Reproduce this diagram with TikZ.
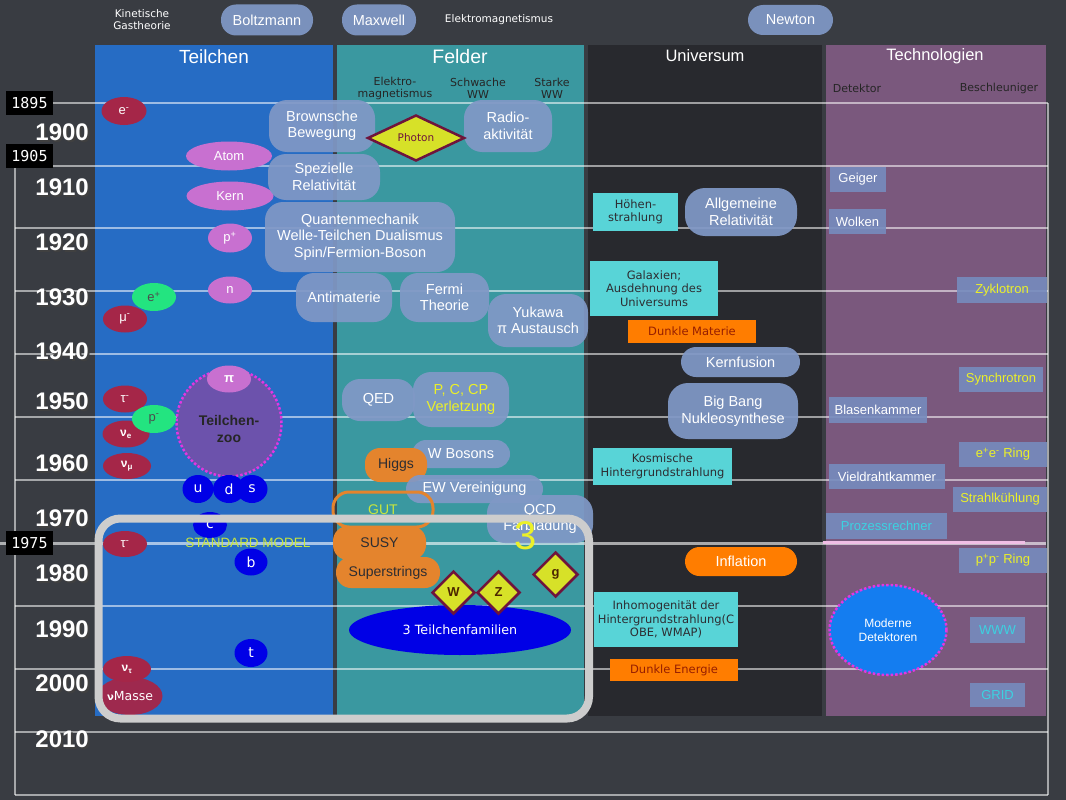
\documentclass[tikz,border=0pt]{standalone}
\usepackage{fontspec}
\setmainfont{Liberation Sans}
\newfontfamily\vd{DejaVu Sans}
\newfontfamily\mn{DejaVu Sans Mono}
\usetikzlibrary{shapes.geometric}
\newcommand\fsz[2]{\fontsize{#1}{#2}\selectfont}
\definecolor{bg}{RGB}{57,60,66}
\definecolor{colT}{RGB}{38,108,196}
\definecolor{colF}{RGB}{58,152,160}
\definecolor{colU}{RGB}{40,41,46}
\definecolor{colX}{RGB}{122,88,125}
\definecolor{pillc}{RGB}{128,152,198}
\definecolor{redp}{RGB}{165,38,72}
\definecolor{orch}{RGB}{200,112,208}
\definecolor{grn}{RGB}{35,228,128}
\definecolor{qblue}{RGB}{0,0,230}
\definecolor{cyanb}{RGB}{88,212,215}
\definecolor{orng}{RGB}{255,125,0}
\definecolor{orng2}{RGB}{228,132,45}
\definecolor{techb}{RGB}{118,140,190}
\definecolor{yel}{RGB}{235,240,40}
\definecolor{dia}{RGB}{215,225,40}
\definecolor{diab}{RGB}{110,20,60}
\definecolor{zoo}{RGB}{108,82,172}
\definecolor{mag}{RGB}{225,55,225}
\definecolor{modb}{RGB}{20,125,240}
\definecolor{framec}{RGB}{205,205,205}
\definecolor{stdm}{RGB}{200,230,60}
\definecolor{pinkl}{RGB}{240,190,230}
\definecolor{darkt}{RGB}{45,45,50}
\definecolor{dmred}{RGB}{150,30,0}
\definecolor{cyt}{RGB}{60,210,225}
\tikzset{
  gridl/.style={draw=white, opacity=0.55, line width=1.5},
  pill/.style={fill=pillc, fill opacity=0.93, text opacity=1, rounded corners=14, text=white,
    font=\fsz{14.5}{16.5}, align=center, inner sep=0pt},
  opill/.style={fill=orng2, rounded corners=15, text=darkt, font=\fsz{14}{16}, align=center, inner sep=0pt},
  pe/.style={ellipse, inner sep=0pt, text=white, font=\fsz{13}{13}},
  qk/.style={ellipse, fill=qblue, inner sep=0pt, text=white, font=\vd\fsz{14}{14}},
  cbox/.style={fill=cyanb, inner sep=0pt, text=darkt, font=\vd\fsz{11.5}{13.5}, align=center},
  obox/.style={fill=orng, inner sep=0pt, text=dmred, font=\vd\fsz{11.5}{13.5}},
  tbox/.style={fill=techb, fill opacity=0.9, text opacity=1, inner sep=0pt, text=white, font=\fsz{13}{13}},
  ytbox/.style={tbox, text=yel},
  ctbox/.style={tbox, text=cyt},
  yrl/.style={anchor=east, text=white, font=\bfseries\fsz{24}{24}, inner sep=0pt},
  yrs/.style={anchor=east, text=black!75, font=\bfseries\fsz{24}{24}, inner sep=0pt},
  yrbox/.style={fill=black, text=white, font=\mn\fsz{15}{15}, minimum width=47, minimum height=24, inner sep=0pt},
  ttl/.style={text=white, inner sep=0pt},
  sub/.style={text=black!85, font=\vd\fsz{11}{12}, align=center, inner sep=0pt},
  toptxt/.style={text=white, font=\vd\fsz{10.5}{12}, align=center, inner sep=0pt},
  dmd/.style={diamond, fill=dia, draw=diab, line width=2.5, inner sep=0pt},
}
\begin{document}
\begin{tikzpicture}[x=1pt,y=-1pt]
\useasboundingbox (0,0) rectangle (1066,800);
\fill[bg] (0,0) rectangle (1066,800);
% columns
\fill[colT] (95,45) rectangle (333,716);
\fill[colF] (337,45) rectangle (584,716);
\fill[colU] (588,45) rectangle (822,716);
\fill[colX] (826,45) rectangle (1046,716);
% grid
\foreach \yy in {166,228,291,354,417,480,606,669,732,795} \draw[gridl] (15,\yy) -- (1048,\yy);
\draw[gridl] (53,103) -- (1048,103);
\draw[gridl] (15,166) -- (15,795);
\draw[gridl] (1048,103) -- (1048,795);
\draw[white, opacity=0.6, line width=3] (0,543) -- (1046,543);
\draw[pinkl, line width=3] (823,542) -- (1025,542);
% year boxes
\node[yrbox] (b1895) at (29.5,103) {1895};
\node[yrbox] (b1905) at (29.5,156) {1905};
\node[yrbox] (b1975) at (29.5,543) {1975};
% year labels
\foreach \yr/\yy in {1900/132,1910/187,1920/242,1930/297,1940/351,1950/401,1960/463,1970/518,1980/573,1990/629,2000/683,2010/739}{
  \node[yrs] (s\yr) at (91,\yy+2) {\yr};
  \node[yrl] (y\yr) at (89,\yy) {\yr};
}
% top row
\node[toptxt] (kin) at (142,20) {Kinetische\\Gastheorie};
\node[pill, minimum width=92, minimum height=31, rounded corners=15] (boltz) at (267,20) {Boltzmann};
\node[pill, minimum width=74, minimum height=31, rounded corners=15] (maxw) at (379,20) {Maxwell};
\node[toptxt] (elm) at (499,20) {Elektromagnetismus};
\node[pill, minimum width=85, minimum height=30, rounded corners=15] (newt) at (790.5,20) {Newton};
% titles
\node[ttl, font=\fsz{19}{19}] (tT) at (214,57) {Teilchen};
\node[ttl, font=\fsz{19.5}{19.5}] (tF) at (460,57) {Felder};
\node[ttl, font=\fsz{16.5}{16.5}] (tU) at (705,56) {Universum};
\node[ttl, font=\fsz{16.5}{16.5}] (tX) at (935,56) {Technologien};
\node[sub] (sEM) at (395,88) {Elektro-\\magnetismus};
\node[sub] (sSW) at (478,88) {Schwache\\WW};
\node[sub] (sST) at (552,88) {Starke\\WW};
\node[sub] (sDet) at (857,88) {Detektor};
\node[sub] (sBes) at (999,88) {Beschleuniger};
% Teilchen
\node[pe, fill=redp, minimum width=45, minimum height=28] (em) at (124,111) {e\textsuperscript{-}};
\node[pe, fill=orch, minimum width=86, minimum height=29] (atom) at (229,156) {Atom};
\node[pe, fill=orch, minimum width=87, minimum height=29] (kern) at (230,196) {Kern};
\node[pe, fill=orch, minimum width=44, minimum height=29] (pplus) at (230,238) {p\textsuperscript{+}};
\node[pe, fill=orch, minimum width=44, minimum height=27] (neut) at (230,290) {n};
\node[pe, fill=grn, text=black!70, minimum width=44, minimum height=28] (epos) at (154,297) {e\textsuperscript{+}};
\node[pe, fill=redp, minimum width=44, minimum height=27] (muon) at (125,319) {μ\textsuperscript{-}};
\node[ellipse, fill=zoo, draw=mag, dotted, line width=2.5, minimum width=105, minimum height=107, inner sep=0pt] (zoo) at (229,423) {};
\node[font=\bfseries\fsz{14}{17}, text=black!85, align=center, inner sep=0pt] (zootxt) at (229,429) {Teilchen-\\zoo};
\node[pe, fill=orch, minimum width=44, minimum height=27, font=\bfseries\fsz{13}{13}] (pion) at (229,379) {π};
\node[pe, fill=redp, minimum width=44, minimum height=27] (tau1) at (125,399) {τ\textsuperscript{-}};
\node[pe, fill=redp, minimum width=47, minimum height=27, font=\bfseries\fsz{12}{12}] (nue) at (126,434) {ν\textsubscript{e}};
\node[pe, fill=grn, text=black!70, minimum width=44, minimum height=28] (pbar) at (154,419) {p\textsuperscript{-}};
\node[pe, fill=redp, minimum width=48, minimum height=26, font=\bfseries\fsz{12}{12}] (numu) at (127,466) {ν\textsubscript{μ}};
\node[qk, minimum width=31, minimum height=28] (uq) at (198,489) {u};
\node[qk, minimum width=32, minimum height=28] (dq) at (229,489) {d};
\node[qk, minimum width=31, minimum height=28] (sq) at (252,489) {s};
\node[qk, minimum width=34, minimum height=26] (cq) at (210,525) {c};
\node[pe, fill=redp, minimum width=44, minimum height=26] (tau2) at (125,544) {τ\textsuperscript{-}};
\node[text=stdm, font=\fsz{13.5}{13.5}, inner sep=0pt] (smt) at (248,543) {STANDARD MODEL};
\node[qk, minimum width=33, minimum height=27] (bq) at (251,562) {b};
\node[qk, minimum width=33, minimum height=28] (tq) at (251,653) {t};
\node[pe, fill=redp, minimum width=48, minimum height=26, font=\bfseries\fsz{12}{12}] (nutau) at (127,669) {ν\textsubscript{τ}};
\node[pe, fill=redp, fill opacity=0.95, text opacity=1, minimum width=61, minimum height=38, font=\vd\fsz{12.5}{12.5}] (numass) at (130,696) {{\bfseries\fsz{10}{10}ν}Masse};
% Felder
\node[pill, minimum width=106, minimum height=52, rounded corners=18] (brown) at (322,126) {Brownsche\\Bewegung};
\node[pill, minimum width=88, minimum height=52, rounded corners=18] (radio) at (508,126) {Radio-\\aktivität};
\node[dmd, minimum width=97, minimum height=46, font=\vd\fsz{10.5}{10.5}, text=diab] (photon) at (416,138) {Photon};
\node[pill, minimum width=112, minimum height=46, rounded corners=18] (spez) at (324,177) {Spezielle\\Relativität};
\node[pill, minimum width=190, minimum height=70, rounded corners=18] (quant) at (360,237) {Quantenmechanik\\Welle-Teilchen Dualismus\\Spin/Fermion-Boson};
\node[pill, minimum width=96, minimum height=49, rounded corners=18] (anti) at (344,297.5) {Antimaterie};
\node[pill, minimum width=89, minimum height=49, rounded corners=18] (fermi) at (444.5,297.5) {Fermi\\Theorie};
\node[pill, minimum width=100, minimum height=53, rounded corners=18] (yuk) at (538,320.5) {Yukawa\\π Austausch};
\node[pill, minimum width=73, minimum height=42, rounded corners=18] (qed) at (378.5,400) {QED};
\node[pill, minimum width=96, minimum height=55, rounded corners=18, text=yel] (pcp) at (461,399.5) {P, C, CP\\Verletzung};
\node[pill, minimum width=98, minimum height=28] (wbos) at (461,454) {W Bosons};
\node[opill, minimum width=62, minimum height=34] (higgs) at (396,465) {Higgs};
\node[pill, minimum width=137, minimum height=28] (ew) at (474.5,489) {EW Vereinigung};
\node[draw=orng2, line width=3, rounded corners=16, minimum width=100, minimum height=35, inner sep=0pt, text=stdm, font=\fsz{14}{14}] (gut) at (383,509.5) {GUT};
\node[pill, minimum width=106, minimum height=48, rounded corners=18] (qcd) at (540,519) {QCD\\Farbladung};
\node[opill, minimum width=93, minimum height=34] (susy) at (379.5,543) {SUSY};
\node[opill, minimum width=104, minimum height=31] (sstr) at (388,572.5) {Superstrings};
\node[ellipse, fill=qblue, minimum width=222, minimum height=50, inner sep=0pt, text=white, font=\vd\fsz{12.7}{12.7}] (fam) at (460,630) {3 Teilchenfamilien};
\node[dmd, minimum width=43, minimum height=43, font=\bfseries\fsz{13}{13}, text=black!70!orange] (wd) at (453.5,592.5) {W};
\node[dmd, minimum width=43, minimum height=43, font=\bfseries\fsz{13}{13}, text=black!70!orange] (zd) at (498.5,592.5) {Z};
\node[dmd, minimum width=45, minimum height=45, font=\bfseries\fsz{13}{13}, text=black!70!orange] (gd) at (555.5,574.5) {g};
% Universum
\node[cbox, minimum width=85, minimum height=38] (hoehen) at (635.5,212) {Höhen-\\strahlung};
\node[pill, minimum width=112, minimum height=48, rounded corners=20] (allg) at (741,212) {Allgemeine\\Relativität};
\node[cbox, minimum width=128, minimum height=55] (galax) at (654,288.5) {Galaxien;\\Ausdehnung des\\Universums};
\node[obox, minimum width=128, minimum height=23] (dmat) at (692,331.5) {Dunkle Materie};
\node[pill, minimum width=119, minimum height=30, rounded corners=15] (kfus) at (740.5,362) {Kernfusion};
\node[pill, minimum width=130, minimum height=56, rounded corners=20] (bbang) at (733,411) {Big Bang\\Nukleosynthese};
\node[cbox, minimum width=139, minimum height=37] (kosm) at (662.5,466.5) {Kosmische\\Hintergrundstrahlung};
\node[fill=orng, rounded corners=14.5, minimum width=112, minimum height=29, inner sep=0pt, text=white, font=\fsz{14.5}{14.5}] (infl) at (741,561.5) {Inflation};
\node[cbox, minimum width=144, minimum height=55] (inhom) at (666,619.5) {Inhomogenität der\\Hintergrundstrahlung(C\\OBE, WMAP)};
\node[obox, minimum width=128, minimum height=22] (denerg) at (674,670) {Dunkle Energie};
% Technologien
\node[tbox, minimum width=56, minimum height=25] (geiger) at (858,179.5) {Geiger};
\node[tbox, minimum width=57, minimum height=25] (wolken) at (857.5,221.5) {Wolken};
\node[ytbox, minimum width=90, minimum height=26] (zyk) at (1002,290) {Zyklotron};
\node[ytbox, minimum width=84, minimum height=25] (sync) at (1001,379.5) {Synchrotron};
\node[tbox, minimum width=98, minimum height=26] (blasen) at (878,410) {Blasenkammer};
\node[ytbox, minimum width=88, minimum height=25] (eering) at (1003,454.5) {e\textsuperscript{+}e\textsuperscript{-} Ring};
\node[tbox, minimum width=116, minimum height=25] (vield) at (887,476.5) {Vieldrahtkammer};
\node[ytbox, minimum width=94, minimum height=25] (strahl) at (1000,499.5) {Strahlkühlung};
\node[ctbox, minimum width=121, minimum height=26] (proz) at (886.5,526) {Prozessrechner};
\node[ytbox, minimum width=88, minimum height=25] (ppring) at (1003,560.5) {p\textsuperscript{+}p\textsuperscript{-} Ring};
\node[ellipse, fill=modb, draw=mag, dotted, line width=2.5, minimum width=117, minimum height=90, inner sep=0pt, text=white, font=\fsz{12}{14}, align=center] (moddet) at (888,630) {Moderne\\Detektoren};
\node[ctbox, minimum width=55, minimum height=26] (www) at (997.5,630) {WWW};
\node[ctbox, minimum width=55, minimum height=24] (grid) at (997.5,695) {GRID};
% standard model frame
\node[draw=framec, line width=8, rounded corners=22, minimum width=490.5, minimum height=200, inner sep=0pt] (smframe) at (343.75,618.5) {};
\node[text=yel, font=\fsz{40}{40}, inner sep=0pt] (three) at (526,536) {3};
\end{tikzpicture}
\end{document}
